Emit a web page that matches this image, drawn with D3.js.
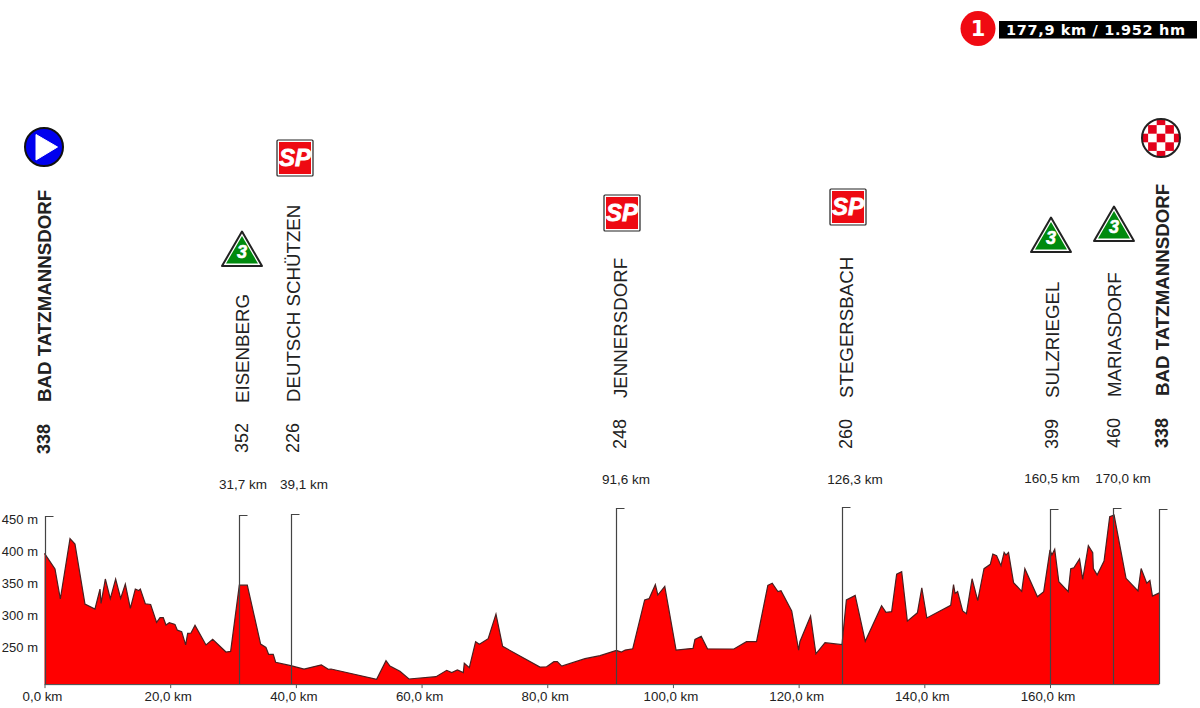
<!DOCTYPE html>
<html><head><meta charset="utf-8">
<script src="https://cdn.jsdelivr.net/npm/d3@7"></script>
<style>html,body{margin:0;padding:0;background:#fff}svg{display:block}text{font-family:"Liberation Sans",Arial,sans-serif;fill:#222}</style>
</head><body><svg id="c" width="1200" height="708"></svg>
<script>
// ---------- data ----------
const profileKm = [0,1.67,2.52,4.06,4.85,6.44,8.03,8.83,9.0,9.68,10.47,11.32,12.12,12.86,13.66,14.45,14.98,15.25,16.04,16.89,17.84,18.38,18.9,19.33,19.86,20.76,21.14,21.83,22.46,22.78,23.31,23.95,25.7,26.76,28.88,29.62,31.0,32.27,34.39,35.24,35.66,36.4,36.78,39.2,41.3,44.05,45.16,45.6,52.85,54.34,54.97,56.56,58,62.3,64,64.8,65.7,66.64,66.8,67.6,68.6,69.2,70.6,71.84,72.9,78.84,79.9,81.06,81.6,82.3,86,88.4,91,91.8,92.4,93.6,95.5,96.2,97.2,97.6,98.7,100.5,103.2,103.5,104.5,105.5,109.7,111.7,113.3,115.1,115.8,116.7,117.2,118.9,120,120.2,121.9,122.75,124.2,126.9,127.6,129,130.6,133.2,133.9,134.8,135.6,136.4,137.3,138.9,139.6,140.4,144.2,144.65,144.9,145.3,146.1,146.7,147.6,148.5,149.5,150.5,150.9,151.5,152.2,152.7,153,153.4,154.2,155.5,156,158,159,160,160.3,160.75,161.4,162.9,163.3,163.8,164.7,165.2,166.1,166.8,166.9,167.5,168.6,169.5,170.2,172.1,174,174.5,175.4,175.9,176.3,177.4];
const profileM = [396.6,372.2,325.5,419.4,411,317.7,309.9,341,318.7,356.6,326,356.6,326.5,348.8,311,341,338.5,341,318,317,289,296.4,296.4,285,288.6,286,277,274.6,254,272,272.6,284.5,254,262.7,243,244,347,347,255.4,250,239.4,239.4,227,221.7,216.5,223,216,216.5,200.5,229.5,221,213,201,204.6,214.5,211,215,211,225.4,218.6,259,255,263.7,302,251.8,219.6,220,228,228,221,232.6,237.3,245.6,243,246,248,324,326,347.8,331.7,345,246,248.7,262.7,267.4,248,247.7,259,259,346.8,350,337,338.5,306.8,246,259,299,240,257.5,254.4,324,331,259.6,315,304.7,305.8,364,368,291,304,343,296,315.6,347.8,334,337,306.8,302.6,357,323,372.7,379.4,395.5,393,377.4,398,394,398,351,337.4,372.7,329,337,402,394,403,352.5,337,372.7,374,388,356,408.5,397.6,373,363,384.6,453.6,456,357.7,338,373,350,354.5,330,335];
const xTicks = [0,20,40,60,80,100,120,140,160];
const yTicks = [250,300,350,400,450];
const placeNames = ["BAD TATZMANNSDORF","EISENBERG","DEUTSCH SCHÜTZEN","JENNERSDORF","STEGERSBACH","SULZRIEGEL","MARIASDORF","BAD TATZMANNSDORF"];
const placeElev = ["338","352","226","248","260","399","460","338"];
const placeKmLabel = ["","31,7 km","39,1 km","91,6 km","126,3 km","160,5 km","170,0 km",""];
const stemKm = [0,30.95,39.2,91.0,126.97,160.0,169.96,177.33];
const stemTopM = [455,456,458,467,469,465.5,467,465.5];
const headline = "177,9 km / 1.952 hm";
const stageNumber = "1";

// ---------- scales ----------
const svg = d3.select("#c");
const x = d3.scaleLinear().domain([0,160]).range([44.5,1050]);
const y = d3.scaleLinear().domain([250,450]).range([647.5,519]);
const baseM = 193;

// ---------- profile ----------
const pts = profileKm.map((k,i)=>[k,profileM[i]]);
svg.append("path").datum(pts).attr("fill","#ff0000")
  .attr("d",d3.area().x(d=>x(d[0])).y0(y(baseM)).y1(d=>y(d[1])));
svg.append("path").datum(pts).attr("fill","none").attr("stroke","#4a2020").attr("stroke-width",1.2)
  .attr("d",d3.line().x(d=>x(d[0])).y(d=>y(d[1])));

// ---------- axes ----------
const gx = svg.append("g").attr("transform",`translate(0,${y(baseM)})`)
  .call(d3.axisBottom(x).tickValues(xTicks).tickSize(4).tickPadding(3).tickFormat(d=>d3.format(".1f")(d).replace(".",",")+" km"));
gx.select(".domain").attr("d",`M${x(0)},0.5H${x(177.4)}`).attr("stroke","#444");
gx.selectAll("line").attr("stroke","#555");
gx.selectAll("text").attr("font-size",13.3).attr("dx",-2.5).attr("fill","#222");
const gy = svg.append("g").attr("transform","translate(38,0)")
  .call(d3.axisLeft(y).tickValues(yTicks).tickSize(0).tickPadding(0).tickFormat(d=>d+" m"));
gy.select(".domain").remove();
gy.selectAll("text").attr("font-size",13).attr("fill","#222");

// ---------- stems with flags ----------
stemKm.forEach((k,i)=>{
  const sx = Math.round(x(k))+0.5, top = Math.round(y(stemTopM[i]))+0.5;
  svg.append("path").attr("fill","none").attr("stroke","#444").attr("stroke-width",1.2)
    .attr("d",`M${sx},${y(baseM)}V${top}h8`);
});

// ---------- rotated labels (layout per place) ----------
const nameX=[44,242,293,620,846,1052,1114,1162], nameB=[402,403,402,398,398,398,397,396];
const elevB=[454,453,453,449,449,449,448,448];
const kmX=[0,243,304,626,855,1052,1123,0], kmY=[0,484,484,479,479,478,478,0];
function vtext(t,px,py,size,bold){
  svg.append("text").attr("transform",`translate(${px},${py}) rotate(-90)`)
    .attr("dy","0.36em").attr("font-size",size).attr("font-weight",bold?700:400).attr("fill","#111").text(t);
}
placeNames.forEach((n,i)=>{
  const b = i===0||i===7;
  vtext(n,nameX[i],nameB[i],18.7,b);
  vtext(placeElev[i],nameX[i],elevB[i],18,b);
  if(placeKmLabel[i]) svg.append("text").attr("x",kmX[i]).attr("y",kmY[i]).attr("dy","0.36em")
    .attr("text-anchor","middle").attr("font-size",13.5).text(placeKmLabel[i]);
});

// ---------- icons ----------
// start
svg.append("circle").attr("cx",44).attr("cy",147).attr("r",19).attr("fill","#0000ee").attr("stroke","#111").attr("stroke-width",2);
svg.append("path").attr("d","M36,134.5L57.5,147L36,160Z").attr("fill","#fff").attr("stroke","#fff").attr("stroke-linejoin","round");
// SP
[[295,158],[622,213],[848,207]].forEach(([cx,cy])=>{
  svg.append("rect").attr("x",cx-18).attr("y",cy-18).attr("width",36).attr("height",36).attr("fill","#fff").attr("stroke","#222").attr("stroke-width",1.2).attr("rx",1);
  svg.append("rect").attr("x",cx-16).attr("y",cy-16).attr("width",32).attr("height",32).attr("fill","#ee0a12");
  svg.append("text").attr("x",cx).attr("y",cy+8).attr("text-anchor","middle").attr("font-size",24).attr("font-weight",700).attr("font-style","italic").attr("style","fill:#fff;stroke:#fff;stroke-width:.8").text("SP");
});
// climb category
[[242,230],[1051,216],[1114,205]].forEach(([cx,ty])=>{
  svg.append("path").attr("d",`M${cx},${ty+1.5}L${cx+20},${ty+36}H${cx-20}Z`).attr("fill","#fff").attr("stroke","#222").attr("stroke-width",2).attr("stroke-linejoin","round");
  svg.append("path").attr("d",`M${cx},${ty+6}L${cx+16},${ty+33.5}H${cx-16}Z`).attr("fill","#008a0e");
  svg.append("text").attr("x",cx).attr("y",ty+28).attr("text-anchor","middle").attr("font-size",18).attr("font-weight",700).attr("font-style","italic").attr("style","fill:#fff;stroke:#fff;stroke-width:.6").text("3");
});
// finish
const fx=1161, fy=138, fr=19, cell=8.6;
svg.append("clipPath").attr("id","fin").append("circle").attr("cx",fx).attr("cy",fy).attr("r",fr);
const fg=svg.append("g").attr("clip-path","url(#fin)");
fg.append("rect").attr("x",fx-fr).attr("y",fy-fr).attr("width",2*fr).attr("height",2*fr).attr("fill","#fff");
d3.range(-3,3).forEach(a=>d3.range(-3,3).forEach(b=>{
  if((a+b+6)%2===0) fg.append("rect").attr("x",fx+(a-0.5)*cell).attr("y",fy+(b-0.5)*cell).attr("width",cell).attr("height",cell).attr("fill","#e3001b");
}));
svg.append("circle").attr("cx",fx).attr("cy",fy).attr("r",fr).attr("fill","none").attr("stroke","#222").attr("stroke-width",2);

// ---------- headline badge ----------
svg.append("circle").attr("cx",978).attr("cy",28.5).attr("r",17.5).attr("fill","#f00a12");
svg.append("text").attr("x",978).attr("y",36).attr("text-anchor","middle").attr("font-size",21).attr("font-weight",700)
  .attr("style","font-family:'DejaVu Sans';fill:#fff").text(stageNumber);
svg.append("rect").attr("x",999).attr("y",21).attr("width",198).attr("height",17.5).attr("fill","#000");
svg.append("text").attr("x",1006).attr("y",34.8).attr("font-size",14.5).attr("font-weight",700)
  .attr("style","font-family:'DejaVu Sans';fill:#fff;letter-spacing:.65px").text(headline);
</script></body></html>
